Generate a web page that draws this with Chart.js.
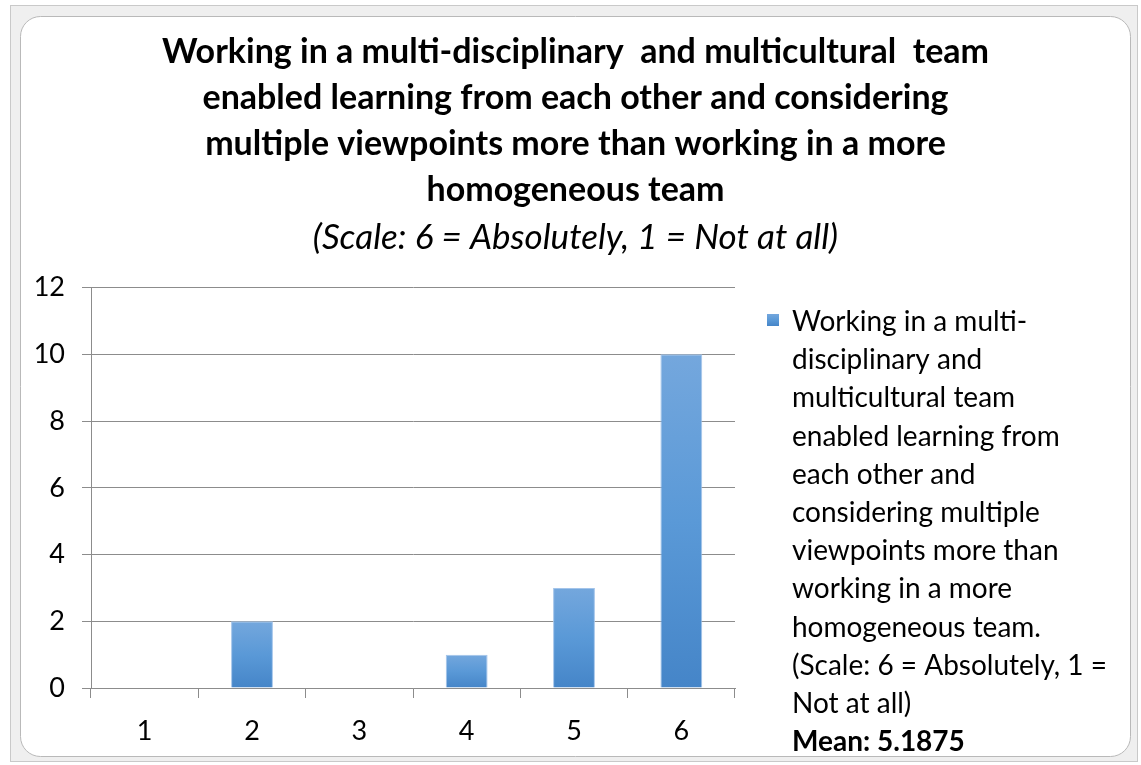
<!DOCTYPE html>
<html>
<head>
<meta charset="utf-8">
<script src="https://cdn.jsdelivr.net/npm/chart.js@4/dist/chart.umd.min.js"></script>
<style>
  html, body { margin: 0; padding: 0; background: #ffffff; }
  #wrap { width: 1141px; height: 765px; position: relative; }
</style>
</head>
<body>
<div id="wrap"><canvas id="chart" width="1141" height="765"></canvas></div>
<script>
// Survey responses: number of answers per scale point
const categories = ['1', '2', '3', '4', '5', '6'];
const responses = [0, 2, 0, 1, 3, 10];
const yTicks = [0, 2, 4, 6, 8, 10, 12];

const titleLines = [
  'Working in a multi-disciplinary  and multicultural  team',
  'enabled learning from each other and considering',
  'multiple viewpoints more than working in a more',
  'homogeneous team'
];
const subtitleText = '(Scale: 6 = Absolutely, 1 = Not at all)';

const seriesName = 'Working in a multi-disciplinary and multicultural team enabled learning from each other and considering multiple viewpoints more than working in a more homogeneous team. (Scale: 6 = Absolutely, 1 = Not at all)';
const legendLines = [
  'Working in a multi-',
  'disciplinary and',
  'multicultural team',
  'enabled learning from',
  'each other and',
  'considering multiple',
  'viewpoints more than',
  'working in a more',
  'homogeneous team.',
  '(Scale: 6 = Absolutely, 1 =',
  'Not at all)'
];
const meanLabel = 'Mean: 5.1875';

const FONT = 'Lato, "Open Sans", sans-serif';

// Vertical gradient spanning one bar (light at the top, deeper at the base)
function barGradient(ctx, top, bottom) {
  const g = ctx.createLinearGradient(0, top, 0, bottom);
  g.addColorStop(0, '#74a7dd');
  g.addColorStop(0.5, '#5a99d7');
  g.addColorStop(1, '#4585c8');
  return g;
}

// Rounded chart frame behind everything
const framePlugin = {
  id: 'frame',
  beforeDraw(chart) {
    const c = chart.ctx;
    c.save();
    c.fillStyle = '#ffffff';
    c.fillRect(0, 0, chart.width, chart.height);
    c.fillStyle = '#efefef';
    c.strokeStyle = '#c9c9c9';
    c.lineWidth = 1;
    c.fillRect(10, 5, 1128, 757);
    c.strokeRect(10.5, 5.5, 1127, 756);
    c.beginPath();
    c.roundRect(20.5, 16.5, 1110, 740, 20);
    c.fillStyle = '#ffffff';
    c.fill();
    c.strokeStyle = '#b9b9b9';
    c.stroke();
    c.restore();
  }
};

// Wrapped legend on the right side, with the mean underneath
const sideLegend = {
  id: 'sideLegend',
  afterDraw(chart) {
    const c = chart.ctx;
    c.save();
    const box = { x: 767, y: 314, s: 12 };
    c.fillStyle = barGradient(c, box.y, box.y + box.s);
    c.fillRect(box.x, box.y, box.s, box.s);
    c.fillStyle = '#000000';
    c.textBaseline = 'middle';
    c.textAlign = 'left';
    c.font = '28px ' + FONT;
    const x0 = 792, y0 = 322, step = 38.2;
    legendLines.forEach((t, i) => c.fillText(t, x0, y0 + i * step));
    c.font = 'bold 28px ' + FONT;
    c.fillText(meanLabel, x0, y0 + legendLines.length * step);
    c.restore();
  }
};

const ctx = document.getElementById('chart').getContext('2d');
new Chart(ctx, {
  type: 'bar',
  data: {
    labels: categories,
    datasets: [{
      label: seriesName,
      data: responses,
      backgroundColor: (context) => {
        const chart = context.chart;
        const yScale = chart.scales.y;
        if (!chart.chartArea || !yScale || context.parsed == null) return '#5a99d7';
        const top = yScale.getPixelForValue(context.parsed.y);
        const bottom = yScale.getPixelForValue(0);
        if (!(bottom > top)) return '#5a99d7';
        return barGradient(chart.ctx, top, bottom);
      },
      borderColor: '#a3c4ea',
      borderWidth: { top: 1, left: 1, right: 1, bottom: 0 },
      categoryPercentage: 1,
      barPercentage: 0.39
    }]
  },
  options: {
    responsive: false,
    animation: false,
    events: [],
    layout: { padding: { left: 30, right: 20, top: 29, bottom: 0 } },
    plugins: {
      legend: { display: false },
      tooltip: { enabled: false },
      title: {
        display: true,
        text: titleLines,
        color: '#000000',
        font: { family: FONT, size: 34, weight: 'bold', lineHeight: 1.35 },
        padding: { top: 0, bottom: 0 }
      },
      subtitle: {
        display: true,
        text: subtitleText,
        color: '#000000',
        font: { family: FONT, size: 35, style: 'italic', lineHeight: 1.2 },
        padding: { top: 4, bottom: 29 }
      }
    },
    scales: {
      x: {
        offset: true,
        afterFit(scale) { scale.height = 77; },
        grid: {
          offset: true,
          drawOnChartArea: false,
          drawTicks: true,
          tickLength: 10,
          color: '#8c8c8c'
        },
        border: { color: '#8c8c8c', width: 1 },
        ticks: {
          color: '#000000',
          font: { family: FONT, size: 27 },
          padding: 17
        }
      },
      y: {
        min: 0,
        max: 12,
        afterFit(scale) { scale.width = 61; },
        afterBuildTicks(scale) { scale.ticks = yTicks.map(v => ({ value: v })); },
        grid: {
          color: '#8c8c8c',
          tickLength: 9,
          lineWidth: 1
        },
        border: { color: '#8c8c8c', width: 1 },
        ticks: {
          color: '#000000',
          font: { family: FONT, size: 27 },
          padding: 17
        }
      },
      // empty right-hand axis that reserves the space used by the side legend
      side: {
        position: 'right',
        display: true,
        afterFit(scale) { scale.width = 386; },
        grid: { display: false },
        border: { display: false },
        ticks: { display: false }
      }
    }
  },
  plugins: [framePlugin, sideLegend]
});
</script>
</body>
</html>
